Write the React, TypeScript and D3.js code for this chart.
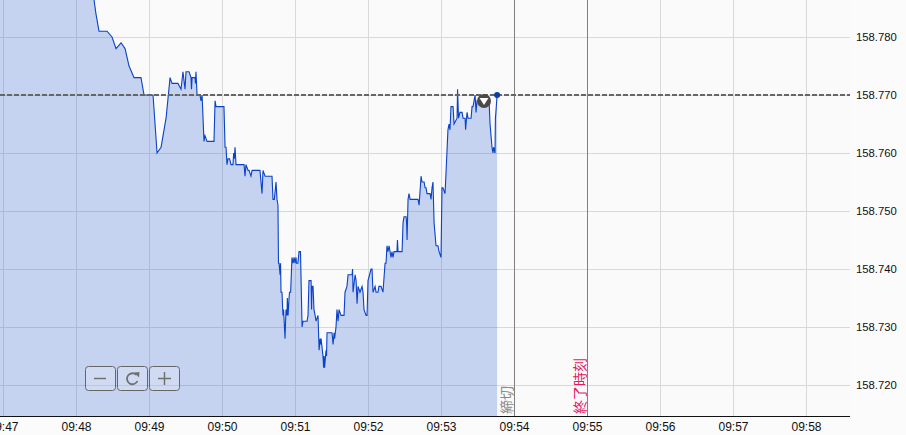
import React from "react";
import * as d3 from "d3";

const WIDTH = 906;
const HEIGHT = 435;

// Seconds after 09:47:00
const tickSeconds = [-6,71.9,74.4,76,78.5,85.1,89.2,92.5,96.6,99.9,103.2,107.3,113,115.5,122.9,126.2,129.5,133.6,136.9,138.5,140.2,143.4,145.9,147.5,149.2,150,152.5,154.1,154.5,155,157.4,157.8,158.2,159.1,161.5,162.3,163.2,164.8,165.6,167.3,173,173.9,174.7,181.2,182.1,182.9,183.7,184.5,185.8,187,188.6,189.2,189.7,190.3,191.1,197.7,198.5,199.3,201,201.8,203.4,204.3,210.8,212.5,213.3,215,220.7,221.5,222.6,224,224.8,225.6,226,226.5,227.3,227.7,228.1,228.9,229.7,230.2,231.4,232.2,233,233.3,233.9,234.7,235.1,236,237.1,238,238.8,239.6,240.4,240.8,242,242.9,244.1,245.4,246.2,249.5,250.3,251.1,252.8,253.2,253.6,254.4,255.2,256.1,256.9,258.5,259.4,260.2,260.6,261,262.6,263.1,263.5,263.9,265.1,265.5,265.9,270,270.9,271.7,272.1,273.3,274.1,275,275.8,277.4,279.9,280.7,282.3,283.2,286.5,286.9,287.3,289,289.8,290.6,291.4,293,294.7,295.5,296.3,298,298.8,299.6,302.1,302.9,303.7,305.4,306.2,307.8,308.6,310.3,311.9,313.6,314.4,315.2,316,316.9,317.7,318.5,319.3,320.1,321,323.4,323.8,324.3,327.6,328.4,329.2,330.9,331.3,331.7,332.5,333.3,334.2,340.7,341.6,343.2,344,345.7,346.5,347.3,348.1,350.6,351.4,352.2,353,353.9,355.5,357.1,358,359.6,360.4,361.2,362.9,363.7,365.3,366.2,367,367.8,369.5,370.3,372.8,373.2,374,375.2,376.9,377.7,379.4,379.8,381,381.8,384.3,385.1,385.9,387.6,388.4,389.2,398.2,399.1,399.9,401.5,402.3,402.8,404,404.3,404.7,405.7];

// Price in thousandths above 158.700
const tickMills = [100,90,86.4,84,81,81,80,78,79,78,75,73,73,70,70,60,61,66,73,72,72,72,71,74,71,74,74,73,71,73,73,72,74,70,70,69,70,62,63,62,62,69,68,68,61,61,58,59,59,58,58,60,59,61,58,58,56,58,57,57,56,57,57,53,57,56,56,52,52,55,52,51,41,41,39,41,36,36,32,33,28,33,32,35,32,35,36,36,42,41,42,41,42,41,41,43,43,30,31,31,32,38,38,33,37,37,33,32,31,32,26,28,27,28,25,23,25,23,26,25,29,29,27,29,28,30,33,31,33,32,32,36,37,39,39,40,36,39,38,34,37,36,37,36,33,32,32,38,40,40,36,37,36,36,37,37,36,41,41,44,43,44,43,42,43,42,43,43,45,43,43,48,49,49,48,45,52,53,52,52,51,56,55,55,54,54,53,53,52,54,55,48,44,44,43,42,54,54,53,56.5,64,65,64,68,68,65,66,71,66,67,67,66,66,64,67,66,66,68,68,70,67,69,69,69,65,61,60,61,60,66,67,70];

const priceTicks = [158.78, 158.77, 158.76, 158.75, 158.74, 158.73, 158.72];
const minuteLabels = ["09:47","09:48","09:49","09:50","09:51","09:52","09:53","09:54","09:55","09:56","09:57","09:58"];
const lastPrice = 158.77;
const closeMinute = 7;
const endMinute = 8;

const series = tickSeconds.map((t, i) => ({ t, p: 158.7 + tickMills[i] / 1000 }));

const FONT = "'Liberation Sans', Arial, sans-serif";
const CJK = "'Noto Sans CJK JP', sans-serif";

export default function App() {
  const plotRight = 850;
  const axisY = 416;
  const x = d3.scaleLinear().domain([0, 660]).range([3.5, 806.5]);
  const y = d3.scaleLinear().domain([158.72, 158.78]).range([385, 37]);
  const line = d3.line<{ t: number; p: number }>().x(d => x(d.t)).y(d => y(d.p));
  const area = d3.area<{ t: number; p: number }>().x(d => x(d.t)).y0(axisY).y1(d => y(d.p));
  const last = series[series.length - 1];
  const buttons = [85, 117, 149];

  return (
    <svg width={WIDTH} height={HEIGHT} style={{ position: "absolute", left: 0, top: 0, display: "block" }}>
      <defs>
        <clipPath id="plot"><rect x={0} y={0} width={plotRight} height={axisY} /></clipPath>
      </defs>
      <rect width={WIDTH} height={HEIGHT} fill="#fbfbfb" />
      <rect width={plotRight} height={axisY} fill="#fafafa" />
      <g stroke="#d9d9d9" strokeWidth={1}>
        {priceTicks.map(p => <line key={p} x1={0} x2={plotRight} y1={Math.round(y(p)) + 0.5} y2={Math.round(y(p)) + 0.5} />)}
        {minuteLabels.map((m, i) => <line key={m} x1={x(i * 60)} x2={x(i * 60)} y1={0} y2={axisY} />)}
      </g>
      <g clipPath="url(#plot)">
        <path d={area(series) ?? ""} fill="rgb(38,94,214)" fillOpacity={0.25} />
        <path d={line(series) ?? ""} fill="none" stroke="#0a42c8" strokeWidth={1.1} />
      </g>
      <line x1={x(closeMinute * 60)} x2={x(closeMinute * 60)} y1={0} y2={axisY} stroke="#808080" />
      <line x1={x(endMinute * 60)} x2={x(endMinute * 60)} y1={0} y2={axisY} stroke="#808080" />
      <line x1={0} x2={plotRight} y1={y(lastPrice)} y2={y(lastPrice)} stroke="#666" strokeWidth={2} strokeDasharray="5 2" />
      <line x1={0} x2={plotRight} y1={axisY + 0.5} y2={axisY + 0.5} stroke="#111" />

      <circle cx={x(last.t)} cy={y(last.p)} r={3} fill="#0b3fa8" />
      <circle cx={484} cy={101} r={7} fill="#4d4747" />
      <path d="M479.5 98 L488.5 98 L484 105 Z" fill="#fff" />

      {priceTicks.map(p => (
        <text key={p} x={856} y={y(p) + 4} fontFamily={FONT} fontSize={11.3} fill="#111">{p.toFixed(3)}</text>
      ))}
      {minuteLabels.map((m, i) => (
        <text key={m} x={x(i * 60)} y={431} textAnchor="middle" fontFamily={FONT} fontSize={12} fill="#111">{m}</text>
      ))}

      <text transform={`translate(${x(closeMinute * 60) - 3},414) rotate(-90)`} fontFamily={CJK} fontSize={14} fill="#8a8a8a">締切</text>
      <text transform={`translate(${x(endMinute * 60) - 3},414) rotate(-90)`} fontFamily={CJK} fontSize={14} fill="#e6195f">終了時刻</text>

      {buttons.map(bx => (
        <rect key={bx} x={bx + 0.5} y={366.5} width={30} height={24} rx={3} fill="#fff" fillOpacity={0.2} stroke="#666" />
      ))}
      <g stroke="#707070" strokeWidth={1.5} fill="none">
        <line x1={94} x2={106} y1={378.5} y2={378.5} />
        <line x1={158} x2={171} y1={378.5} y2={378.5} />
        <line x1={164.5} x2={164.5} y1={372} y2={385} />
        <path d="M136.5 375 A5.5 5.5 0 1 0 137.5 381" strokeWidth={1.8} />
      </g>
      <path d="M134 372.5 L139.5 372 L139 377.5 Z" fill="#707070" />
    </svg>
  );
}
